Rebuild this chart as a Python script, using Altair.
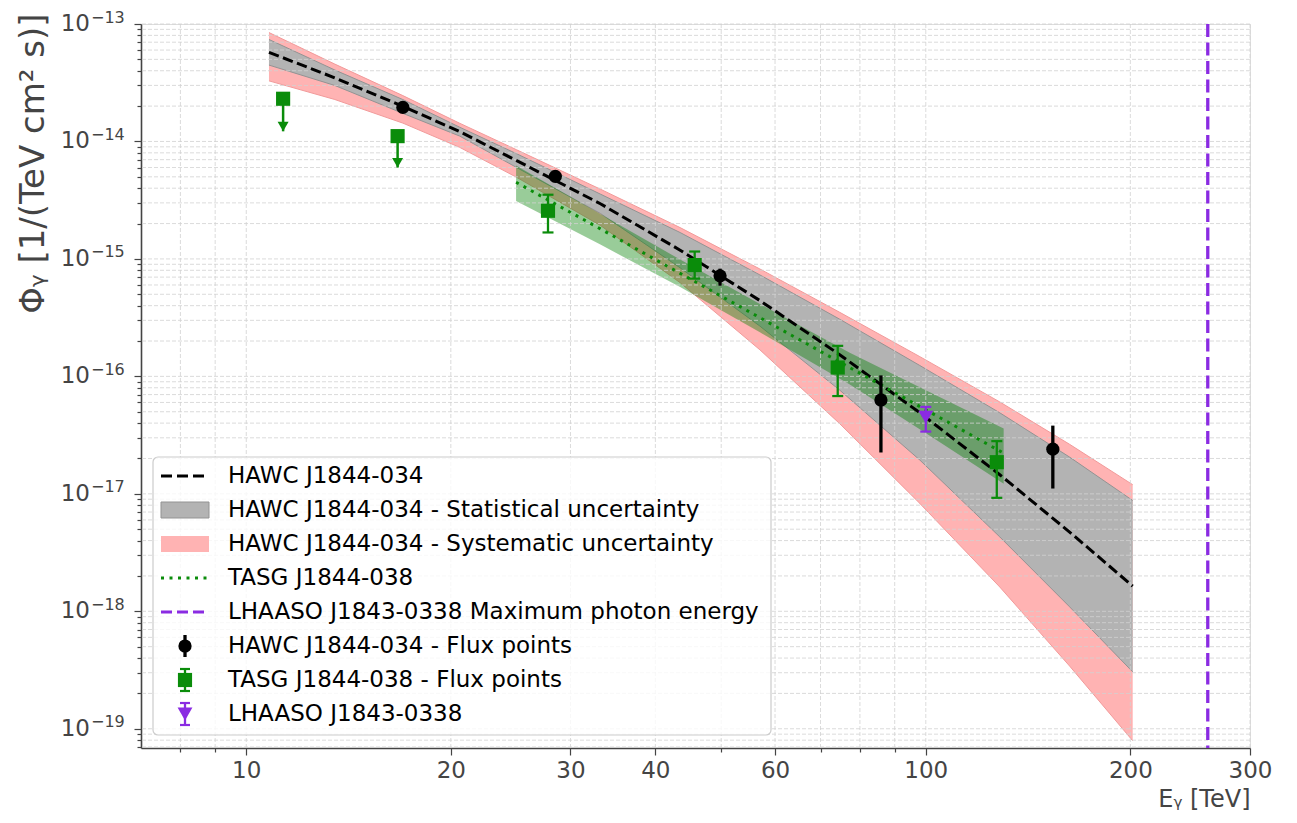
import altair as alt
import pandas as pd

FONT = "DejaVu Sans"
TEXT = "#444444"
GREEN = "#0a8c0a"
PURPLE = "#8a2be2"
PINK = "#ffb3b3"
GRAY = "#b3b3b3"

# ---------------- data ----------------
# HAWC J1844-034 model curve and its uncertainty bands
hawc_E = [10.8, 13.5, 17.0, 20.6, 25.0, 33.2, 43.5, 57.0, 74.7, 98.0, 128.5, 162.8, 201.6]
hawc_F = [5.74e-14, 3.48e-14, 1.99e-14, 1.215e-14, 6.87e-15, 2.95e-15, 1.187e-15,
          4.42e-16, 1.53e-16, 4.90e-17, 1.455e-17, 4.73e-18, 1.64e-18]
hawc_stat_hi = [7.385e-14, 4.059e-14, 2.274e-14, 1.324e-14, 7.86e-15, 3.563e-15, 1.678e-15,
                7.31e-16, 3.067e-16, 1.238e-16, 4.898e-17, 2.055e-17, 8.78e-18]
hawc_stat_lo = [4.469e-14, 2.997e-14, 1.735e-14, 1.113e-14, 6.0e-15, 2.44e-15, 8.40e-16,
                2.68e-16, 7.64e-17, 1.94e-17, 4.30e-18, 1.092e-18, 3.05e-19]
hawc_sys_hi = [8.455e-14, 4.556e-14, 2.457e-14, 1.431e-14, 8.49e-15, 3.925e-15, 1.848e-15,
               8.21e-16, 3.512e-16, 1.473e-16, 6.06e-17, 2.641e-17, 1.197e-17]
hawc_sys_lo = [3.28e-14, 2.276e-14, 1.433e-14, 8.92e-15, 4.95e-15, 1.929e-15, 6.28e-16,
               1.683e-16, 3.96e-17, 8.29e-18, 1.61e-18, 3.42e-19, 7.91e-20]

# TASG J1844-038 model and band
tasg_E = [24.95, 33.2, 43.5, 57.0, 77.3, 101.4, 130.2]
tasg_F = [4.49e-15, 1.803e-15, 7.54e-16, 3.16e-16, 1.187e-16, 4.97e-17, 2.22e-17]
tasg_hi = [6.24e-15, 2.41e-15, 9.88e-16, 4.14e-16, 1.586e-16, 7.31e-17, 3.60e-17]
tasg_lo = [3.11e-15, 1.324e-15, 5.76e-16, 2.37e-16, 8.55e-17, 3.13e-17, 1.22e-17]

# flux points
hawc_pts_E = [17.0, 28.5, 49.8, 85.9, 153.8]
hawc_pts_F = [1.95e-14, 5.05e-15, 7.18e-16, 6.3e-17, 2.4e-17]
hawc_pts_lo = [1.80e-14, 4.6e-15, 5.91e-16, 2.25e-17, 1.11e-17]
hawc_pts_hi = [2.10e-14, 5.5e-15, 8.26e-16, 1.02e-16, 3.81e-17]

tasg_pts_E = [27.8, 45.7, 74.2, 127.2]
tasg_pts_F = [2.57e-15, 8.87e-16, 1.19e-16, 1.86e-17]
tasg_pts_lo = [1.68e-15, 6.8e-16, 6.8e-17, 9.25e-18]
tasg_pts_hi = [3.52e-15, 1.156e-15, 1.82e-16, 2.81e-17]

tasg_ul_E = [11.33, 16.7]
tasg_ul_F = [2.31e-14, 1.11e-14]
tasg_ul_tip = [1.22e-14, 6.0e-15]

lhaaso_E = [100.0]
lhaaso_F = [4.5e-17]
lhaaso_lo = [3.39e-17]
lhaaso_hi = [5.5e-17]
lhaaso_emax = [260.0]

# axes
x_domain = [7, 300]
y_domain = [6.86e-20, 1e-13]
x_tick_values = [8, 9, 10, 20, 30, 40, 50, 60, 70, 80, 90, 100, 200, 300]
x_tick_labels = [10, 20, 30, 40, 60, 100, 200, 300]
y_major = [1e-19, 1e-18, 1e-17, 1e-16, 1e-15, 1e-14, 1e-13]
y_major_base = ["10"] * 7
y_major_exp = ["−19", "−18", "−17", "−16", "−15", "−14", "−13"]
y_minor = [float(f"{k}e{n}") for n in range(-20, -13) for k in range(2, 10)]
y_minor = [v for v in y_minor if y_domain[0] <= v <= y_domain[1]]
y_ticks = sorted(y_major + y_minor)

legend_labels = [
    "HAWC J1844-034",
    "HAWC J1844-034 - Statistical uncertainty",
    "HAWC J1844-034 - Systematic uncertainty",
    "TASG J1844-038",
    "LHAASO J1843-0338 Maximum photon energy",
    "HAWC J1844-034 - Flux points",
    "TASG J1844-038 - Flux points",
    "LHAASO J1843-0338",
]

# ---------------- tables ----------------
hawc_df = pd.DataFrame({"E": hawc_E, "F": hawc_F, "stat_lo": hawc_stat_lo, "stat_hi": hawc_stat_hi,
                        "sys_lo": hawc_sys_lo, "sys_hi": hawc_sys_hi})
tasg_df = pd.DataFrame({"E": tasg_E, "F": tasg_F, "lo": tasg_lo, "hi": tasg_hi})
hawc_pts = pd.DataFrame({"E": hawc_pts_E, "F": hawc_pts_F, "lo": hawc_pts_lo, "hi": hawc_pts_hi})
tasg_pts = pd.DataFrame({"E": tasg_pts_E, "F": tasg_pts_F, "lo": tasg_pts_lo, "hi": tasg_pts_hi})
tasg_ul = pd.DataFrame({"E": tasg_ul_E, "F": tasg_ul_F, "tip": tasg_ul_tip})
lhaaso_df = pd.DataFrame({"E": lhaaso_E, "F": lhaaso_F, "lo": lhaaso_lo, "hi": lhaaso_hi})
emax_df = pd.DataFrame({"E": lhaaso_emax})
xgrid_df = pd.DataFrame({"E": x_tick_values})
ygrid_df = pd.DataFrame({"F": y_ticks})
ylab_df = pd.DataFrame({"F": y_major, "base": y_major_base, "exp": y_major_exp})
one = pd.DataFrame({"k": [0]})

# ---------------- layout ----------------
TOP = 24          # page y of the plot's top edge
BOTTOM = 748      # page y of the x axis

# ---------------- scales & axes ----------------
xl_js = "[" + ",".join(str(v) for v in x_tick_labels) + "]"
ym_js = "[" + ",".join(repr(v) for v in y_major) + "]"

xs = alt.Scale(type="log", domain=x_domain, nice=False)
ys = alt.Scale(type="log", domain=y_domain, nice=False)

xaxis = alt.Axis(
    values=x_tick_values,
    labelExpr=f"indexof({xl_js}, datum.value) >= 0 ? datum.value + '' : ''",
    title="Eᵧ [TeV]", titleAnchor="end", titleFont=FONT, titleFontSize=24,
    titleFontWeight="normal", titleColor=TEXT, titlePadding=5,
    labelFont=FONT, labelFontSize=23, labelColor=TEXT, labelPadding=4,
    labelFlush=False, labelOverlap=False,
    tickColor=TEXT, tickWidth=1.2,
    tickSize={"condition": {"test": f"indexof({xl_js}, datum.value) >= 0", "value": 7}, "value": 4},
    domainColor=TEXT, domainWidth=1.6, grid=False,
)
yaxis = alt.Axis(
    values=y_ticks, labels=False,
    title="Φᵧ [1/(TeV cm² s)]", titleFont=FONT, titleFontSize=34, titleFontWeight="normal",
    titleColor=TEXT, titleX=-98, titleY=13 - TOP, titleAngle=270, titleAlign="right",
    titleBaseline="alphabetic",
    tickColor=TEXT, tickWidth=1.2,
    tickSize={"condition": {"test": f"indexof({ym_js}, datum.value) >= 0", "value": 7}, "value": 4},
    domainColor=TEXT, domainWidth=1.6, grid=False,
)


def X(f):
    return alt.X(f, type="quantitative", scale=xs, axis=xaxis)


def Y(f):
    return alt.Y(f, type="quantitative", scale=ys, axis=yaxis)


layers = []

# bands
layers.append(alt.Chart(hawc_df).mark_area(color=PINK, opacity=1).encode(
    x=X("E"), y=Y("sys_lo"), y2=alt.Y2("sys_hi")))
for fld in ["sys_lo", "sys_hi"]:
    layers.append(alt.Chart(hawc_df).mark_line(color="#f29a9a", strokeWidth=1).encode(x=X("E"), y=Y(fld)))
layers.append(alt.Chart(hawc_df).mark_area(color=GRAY, opacity=1).encode(
    x=X("E"), y=Y("stat_lo"), y2=alt.Y2("stat_hi")))
for fld in ["stat_lo", "stat_hi"]:
    layers.append(alt.Chart(hawc_df).mark_line(color="#939393", strokeWidth=1).encode(x=X("E"), y=Y(fld)))
layers.append(alt.Chart(tasg_df).mark_area(color="#008000", opacity=0.4).encode(
    x=X("E"), y=Y("lo"), y2=alt.Y2("hi")))

# grid (drawn above the bands, below the lines)
grid_style = dict(color="#d2d2d2", strokeWidth=0.8, strokeDash=[4, 2])
layers.append(alt.Chart(xgrid_df).mark_rule(**grid_style).encode(x=X("E")))
layers.append(alt.Chart(ygrid_df).mark_rule(**grid_style).encode(y=Y("F")))

# y tick labels with superscript exponents
layers.append(alt.Chart(ylab_df).mark_text(align="right", baseline="middle", font=FONT, fontSize=23,
                                           color=TEXT).encode(x=alt.value(-51), y=Y("F"), text="base:N"))
layers.append(alt.Chart(ylab_df).mark_text(align="left", baseline="middle", font=FONT, fontSize=16,
                                           color=TEXT, dy=-6.5).encode(x=alt.value(-50), y=Y("F"), text="exp:N"))

# model lines
layers.append(alt.Chart(hawc_df).mark_line(color="black", strokeWidth=3, strokeDash=[10.5, 4.5]).encode(
    x=X("E"), y=Y("F")))
layers.append(alt.Chart(tasg_df).mark_line(color=GREEN, strokeWidth=3, strokeDash=[3, 5.5], strokeCap="butt").encode(
    x=X("E"), y=Y("F")))
layers.append(alt.Chart(emax_df).mark_rule(color=PURPLE, strokeWidth=3.3, strokeDash=[13, 5.5]).encode(x=X("E")))

# HAWC points
layers.append(alt.Chart(hawc_pts).mark_rule(color="black", strokeWidth=3.3).encode(
    x=X("E"), y=Y("lo"), y2=alt.Y2("hi")))
layers.append(alt.Chart(hawc_pts).mark_circle(color="black", size=175, opacity=1).encode(x=X("E"), y=Y("F")))

# TASG points
layers.append(alt.Chart(tasg_pts).mark_rule(color=GREEN, strokeWidth=2.3).encode(
    x=X("E"), y=Y("lo"), y2=alt.Y2("hi")))
for fld in ["lo", "hi"]:
    layers.append(alt.Chart(tasg_pts).mark_tick(color=GREEN, orient="horizontal", size=11, thickness=2.2, opacity=1).encode(
        x=X("E"), y=Y(fld)))
layers.append(alt.Chart(tasg_pts).mark_square(color=GREEN, size=200, opacity=1).encode(x=X("E"), y=Y("F")))

# TASG upper limits
layers.append(alt.Chart(tasg_ul).mark_rule(color=GREEN, strokeWidth=2.5).encode(
    x=X("E"), y=Y("tip"), y2=alt.Y2("F")))
layers.append(alt.Chart(tasg_ul).mark_point(shape="triangle-down", filled=True, size=121, color=GREEN,
                                            opacity=1, yOffset=-4.8).encode(x=X("E"), y=Y("tip")))
layers.append(alt.Chart(tasg_ul).mark_square(color=GREEN, size=200, opacity=1).encode(x=X("E"), y=Y("F")))

# LHAASO point
layers.append(alt.Chart(lhaaso_df).mark_rule(color=PURPLE, strokeWidth=2.3).encode(
    x=X("E"), y=Y("lo"), y2=alt.Y2("hi")))
for fld in ["lo", "hi"]:
    layers.append(alt.Chart(lhaaso_df).mark_tick(color=PURPLE, orient="horizontal", size=11, thickness=2.2, opacity=1).encode(
        x=X("E"), y=Y(fld)))
layers.append(alt.Chart(lhaaso_df).mark_point(shape="triangle-down", filled=True, size=220, color=PURPLE,
                                              opacity=1).encode(x=X("E"), y=Y("F")))

# ---------------- legend (drawn in plot pixel space) ----------------
LX0, LX1, LXC, LTX = 20, 68, 44, 87
rows = [r - TOP for r in [476, 510, 544, 578, 612, 646, 680, 714]]


def V(**kw):
    return {k: alt.value(v) for k, v in kw.items()}


layers.append(alt.Chart(one).mark_rect(fill="white", fillOpacity=0.8, stroke="#cccccc", strokeWidth=1.2,
                                       cornerRadius=5).encode(**V(x=12, x2=630, y=457 - TOP, y2=735 - TOP)))
layers.append(alt.Chart(one).mark_rule(color="black", strokeWidth=3, strokeDash=[11, 5]).encode(
    **V(x=LX0, x2=LX1, y=rows[0])))
layers.append(alt.Chart(one).mark_rect(color=GRAY, stroke="#939393", strokeWidth=1).encode(
    **V(x=LX0, x2=LX1, y=rows[1] - 8, y2=rows[1] + 8)))
layers.append(alt.Chart(one).mark_rect(color=PINK).encode(
    **V(x=LX0, x2=LX1, y=rows[2] - 8, y2=rows[2] + 8)))
layers.append(alt.Chart(one).mark_rule(color=GREEN, strokeWidth=3, strokeDash=[3, 5.5], strokeCap="butt").encode(
    **V(x=LX0, x2=LX1, y=rows[3])))
layers.append(alt.Chart(one).mark_rule(color=PURPLE, strokeWidth=3, strokeDash=[11, 5]).encode(
    **V(x=LX0, x2=LX1, y=rows[4])))
# HAWC flux point symbol
layers.append(alt.Chart(one).mark_rule(color="black", strokeWidth=3.3).encode(
    **V(x=LXC, y=rows[5] - 11, y2=rows[5] + 11)))
layers.append(alt.Chart(one).mark_circle(color="black", size=175, opacity=1).encode(**V(x=LXC, y=rows[5])))
# TASG flux point symbol
layers.append(alt.Chart(one).mark_rule(color=GREEN, strokeWidth=2.3).encode(
    **V(x=LXC, y=rows[6] - 11, y2=rows[6] + 11)))
for dy in (-11, 11):
    layers.append(alt.Chart(one).mark_rule(color=GREEN, strokeWidth=2.2).encode(
        **V(x=LXC - 5, x2=LXC + 5, y=rows[6] + dy)))
layers.append(alt.Chart(one).mark_square(color=GREEN, size=200, opacity=1).encode(**V(x=LXC, y=rows[6])))
# LHAASO symbol
layers.append(alt.Chart(one).mark_rule(color=PURPLE, strokeWidth=2.3).encode(
    **V(x=LXC, y=rows[7] - 11, y2=rows[7] + 11)))
for dy in (-11, 11):
    layers.append(alt.Chart(one).mark_rule(color=PURPLE, strokeWidth=2.2).encode(
        **V(x=LXC - 5, x2=LXC + 5, y=rows[7] + dy)))
layers.append(alt.Chart(one).mark_point(shape="triangle-down", filled=True, size=220, color=PURPLE,
                                        opacity=1).encode(**V(x=LXC, y=rows[7])))
for lab, ry in zip(legend_labels, rows):
    layers.append(alt.Chart(one).mark_text(text=lab, align="left", baseline="middle", font=FONT,
                                           fontSize=23, color="black").encode(**V(x=LTX, y=ry)))

chart = alt.layer(*layers).properties(
    width=1109, height=BOTTOM - TOP,
    autosize=alt.AutoSizeParams(type="none"),
    padding={"left": 133, "top": TOP - 8, "right": 35, "bottom": 66},
    background="white",
).configure_view(stroke=None).configure(font=FONT)

chart.save("out.html", embed_options={"renderer": "svg", "actions": False})
